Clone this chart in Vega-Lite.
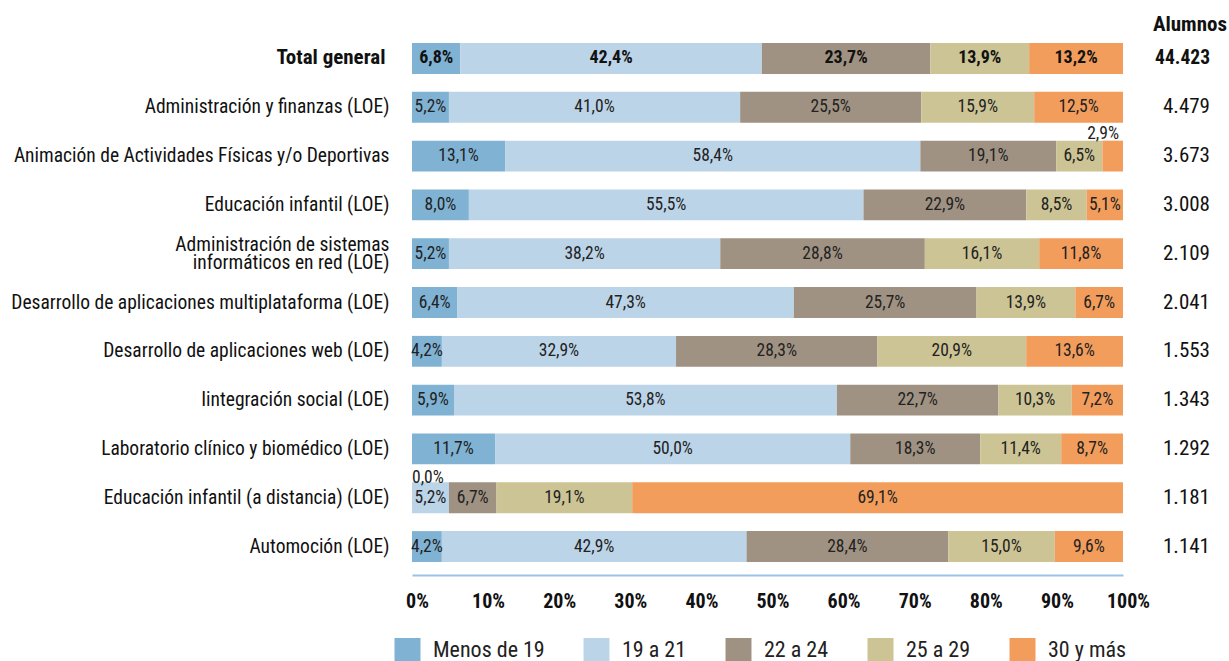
{
  "$schema": "https://vega.github.io/schema/vega-lite/v6.json",
  "autosize": {"type": "none"},
  "width": 711,
  "height": 545,
  "padding": {"left": 412, "top": 30, "right": 106, "bottom": 86},
  "background": "white",
  "config": {
    "font": "Noto Sans Condensed, Roboto Condensed, Liberation Sans Narrow, DejaVu Sans Condensed, sans-serif",
    "view": {"stroke": null}
  },
  "title": {"text": "Alumnos", "anchor": "end", "frame": "group", "dx": 104, "fontSize": 21, "fontWeight": "bold", "color": "#111111", "baseline": "alphabetic", "offset": -22},
  "datasets": {
    "ages": [
      {"cat": "Total general", "age": "Menos de 19", "v": 6.8},
      {"cat": "Total general", "age": "19 a 21", "v": 42.4},
      {"cat": "Total general", "age": "22 a 24", "v": 23.7},
      {"cat": "Total general", "age": "25 a 29", "v": 13.9},
      {"cat": "Total general", "age": "30 y más", "v": 13.2},
      {"cat": "Administración y finanzas (LOE)", "age": "Menos de 19", "v": 5.2},
      {"cat": "Administración y finanzas (LOE)", "age": "19 a 21", "v": 41.0},
      {"cat": "Administración y finanzas (LOE)", "age": "22 a 24", "v": 25.5},
      {"cat": "Administración y finanzas (LOE)", "age": "25 a 29", "v": 15.9},
      {"cat": "Administración y finanzas (LOE)", "age": "30 y más", "v": 12.5},
      {"cat": "Animación de Actividades Físicas y/o Deportivas", "age": "Menos de 19", "v": 13.1},
      {"cat": "Animación de Actividades Físicas y/o Deportivas", "age": "19 a 21", "v": 58.4},
      {"cat": "Animación de Actividades Físicas y/o Deportivas", "age": "22 a 24", "v": 19.1},
      {"cat": "Animación de Actividades Físicas y/o Deportivas", "age": "25 a 29", "v": 6.5},
      {"cat": "Animación de Actividades Físicas y/o Deportivas", "age": "30 y más", "v": 2.9},
      {"cat": "Educación infantil (LOE)", "age": "Menos de 19", "v": 8.0},
      {"cat": "Educación infantil (LOE)", "age": "19 a 21", "v": 55.5},
      {"cat": "Educación infantil (LOE)", "age": "22 a 24", "v": 22.9},
      {"cat": "Educación infantil (LOE)", "age": "25 a 29", "v": 8.5},
      {"cat": "Educación infantil (LOE)", "age": "30 y más", "v": 5.1},
      {"cat": "Administración de sistemas informáticos en red (LOE)", "age": "Menos de 19", "v": 5.2},
      {"cat": "Administración de sistemas informáticos en red (LOE)", "age": "19 a 21", "v": 38.2},
      {"cat": "Administración de sistemas informáticos en red (LOE)", "age": "22 a 24", "v": 28.8},
      {"cat": "Administración de sistemas informáticos en red (LOE)", "age": "25 a 29", "v": 16.1},
      {"cat": "Administración de sistemas informáticos en red (LOE)", "age": "30 y más", "v": 11.8},
      {"cat": "Desarrollo de aplicaciones multiplataforma (LOE)", "age": "Menos de 19", "v": 6.4},
      {"cat": "Desarrollo de aplicaciones multiplataforma (LOE)", "age": "19 a 21", "v": 47.3},
      {"cat": "Desarrollo de aplicaciones multiplataforma (LOE)", "age": "22 a 24", "v": 25.7},
      {"cat": "Desarrollo de aplicaciones multiplataforma (LOE)", "age": "25 a 29", "v": 13.9},
      {"cat": "Desarrollo de aplicaciones multiplataforma (LOE)", "age": "30 y más", "v": 6.7},
      {"cat": "Desarrollo de aplicaciones web (LOE)", "age": "Menos de 19", "v": 4.2},
      {"cat": "Desarrollo de aplicaciones web (LOE)", "age": "19 a 21", "v": 32.9},
      {"cat": "Desarrollo de aplicaciones web (LOE)", "age": "22 a 24", "v": 28.3},
      {"cat": "Desarrollo de aplicaciones web (LOE)", "age": "25 a 29", "v": 20.9},
      {"cat": "Desarrollo de aplicaciones web (LOE)", "age": "30 y más", "v": 13.6},
      {"cat": "Iintegración social (LOE)", "age": "Menos de 19", "v": 5.9},
      {"cat": "Iintegración social (LOE)", "age": "19 a 21", "v": 53.8},
      {"cat": "Iintegración social (LOE)", "age": "22 a 24", "v": 22.7},
      {"cat": "Iintegración social (LOE)", "age": "25 a 29", "v": 10.3},
      {"cat": "Iintegración social (LOE)", "age": "30 y más", "v": 7.2},
      {"cat": "Laboratorio clínico y biomédico (LOE)", "age": "Menos de 19", "v": 11.7},
      {"cat": "Laboratorio clínico y biomédico (LOE)", "age": "19 a 21", "v": 50.0},
      {"cat": "Laboratorio clínico y biomédico (LOE)", "age": "22 a 24", "v": 18.3},
      {"cat": "Laboratorio clínico y biomédico (LOE)", "age": "25 a 29", "v": 11.4},
      {"cat": "Laboratorio clínico y biomédico (LOE)", "age": "30 y más", "v": 8.7},
      {"cat": "Educación infantil (a distancia) (LOE)", "age": "Menos de 19", "v": 0.0},
      {"cat": "Educación infantil (a distancia) (LOE)", "age": "19 a 21", "v": 5.2},
      {"cat": "Educación infantil (a distancia) (LOE)", "age": "22 a 24", "v": 6.7},
      {"cat": "Educación infantil (a distancia) (LOE)", "age": "25 a 29", "v": 19.1},
      {"cat": "Educación infantil (a distancia) (LOE)", "age": "30 y más", "v": 69.1},
      {"cat": "Automoción (LOE)", "age": "Menos de 19", "v": 4.2},
      {"cat": "Automoción (LOE)", "age": "19 a 21", "v": 42.9},
      {"cat": "Automoción (LOE)", "age": "22 a 24", "v": 28.4},
      {"cat": "Automoción (LOE)", "age": "25 a 29", "v": 15.0},
      {"cat": "Automoción (LOE)", "age": "30 y más", "v": 9.6}
    ],
    "totals": [
      {"cat": "Total general", "n": "44.423"},
      {"cat": "Administración y finanzas (LOE)", "n": "4.479"},
      {"cat": "Animación de Actividades Físicas y/o Deportivas", "n": "3.673"},
      {"cat": "Educación infantil (LOE)", "n": "3.008"},
      {"cat": "Administración de sistemas informáticos en red (LOE)", "n": "2.109"},
      {"cat": "Desarrollo de aplicaciones multiplataforma (LOE)", "n": "2.041"},
      {"cat": "Desarrollo de aplicaciones web (LOE)", "n": "1.553"},
      {"cat": "Iintegración social (LOE)", "n": "1.343"},
      {"cat": "Laboratorio clínico y biomédico (LOE)", "n": "1.292"},
      {"cat": "Educación infantil (a distancia) (LOE)", "n": "1.181"},
      {"cat": "Automoción (LOE)", "n": "1.141"}
    ]
  },
  "encoding": {
    "y": {
      "field": "cat",
      "type": "nominal",
      "sort": ["Total general", "Administración y finanzas (LOE)", "Animación de Actividades Físicas y/o Deportivas", "Educación infantil (LOE)", "Administración de sistemas informáticos en red (LOE)", "Desarrollo de aplicaciones multiplataforma (LOE)", "Desarrollo de aplicaciones web (LOE)", "Iintegración social (LOE)", "Laboratorio clínico y biomédico (LOE)", "Educación infantil (a distancia) (LOE)", "Automoción (LOE)"],
      "scale": {"paddingInner": 0.368, "paddingOuter": 0.267},
      "axis": {
        "title": null,
        "ticks": false,
        "domain": false,
        "labelPadding": {"expr": "datum.value == 'Total general' ? 27 : 23"},
        "labelFontSize": {"expr": "datum.value == 'Total general' ? 21 : 19.5"},
        "labelColor": "#111111",
        "labelLimit": 500,
        "labelLineHeight": 18,
        "labelFontWeight": {"expr": "datum.value == 'Total general' ? 'bold' : 'normal'"},
        "labelOffset": {"expr": "datum.value == 'Administración de sistemas informáticos en red (LOE)' ? -9 : 0"},
        "labelExpr": "datum.value == 'Administración de sistemas informáticos en red (LOE)' ? ['Administración de sistemas', 'informáticos en red (LOE)'] : datum.value"
      }
    }
  },
  "layer": [
    {
      "data": {"name": "ages"},
      "transform": [
        {"calculate": "indexof(['Menos de 19', '19 a 21', '22 a 24', '25 a 29', '30 y más'], datum.age)", "as": "o"},
        {"stack": "v", "groupby": ["cat"], "sort": [{"field": "o", "order": "ascending"}], "as": ["x0", "x1"], "offset": "normalize"},
        {"calculate": "(datum.x0 + datum.x1) / 2", "as": "mid"},
        {"calculate": "replace(format(datum.v, '.1f'), '.', ',') + '%'", "as": "lab"}
      ],
      "layer": [
        {
          "mark": {"type": "bar"},
          "encoding": {
            "x": {
              "field": "x0",
              "type": "quantitative",
              "scale": {"domain": [0, 1], "nice": false, "zero": true},
              "axis": {
                "title": null,
                "values": [0, 0.1, 0.2, 0.3, 0.4, 0.5, 0.6, 0.7, 0.8, 0.9, 1],
                "format": ".0%",
                "grid": false,
                "ticks": false,
                "domainColor": "#9cc2e5",
                "domainWidth": 2,
                "labelFontSize": 20,
                "labelFontWeight": "bold",
                "labelColor": "#111111",
                "labelPadding": 16,
                "labelOffset": 5,
                "labelFlush": false
              }
            },
            "x2": {"field": "x1"},
            "color": {
              "field": "age",
              "type": "nominal",
              "scale": {
                "domain": ["Menos de 19", "19 a 21", "22 a 24", "25 a 29", "30 y más"],
                "range": ["#80b2d4", "#bcd4e8", "#a09282", "#ccc494", "#f29d5c"]
              },
              "legend": {
                "title": null,
                "orient": "none",
                "direction": "horizontal",
                "legendX": -16,
                "legendY": 608,
                "padding": 0,
                "symbolType": "M-1.13,-1L1.13,-1L1.13,1L-1.13,1Z",
                "symbolSize": 529,
                "symbolStrokeWidth": 0,
                "symbolOpacity": 1,
                "labelFontSize": 22,
                "labelColor": "#222222",
                "labelOffset": 14,
                "columnPadding": 38
              }
            }
          }
        },
        {
          "transform": [{"filter": "datum.v >= 3 && datum.cat != 'Total general'"}],
          "mark": {"type": "text", "fontSize": 17.5, "color": "#222222", "baseline": "middle", "align": "center"},
          "encoding": {
            "x": {"field": "mid", "type": "quantitative"},
            "text": {"field": "lab"}
          }
        },
        {
          "transform": [{"filter": "datum.cat == 'Total general'"}],
          "mark": {"type": "text", "fontSize": 18, "fontWeight": "bold", "color": "#111111", "baseline": "middle", "align": "center"},
          "encoding": {
            "x": {"field": "mid", "type": "quantitative"},
            "text": {"field": "lab"}
          }
        },
        {
          "transform": [{"filter": "datum.v < 3 && datum.mid > 0.5"}],
          "mark": {"type": "text", "fontSize": 17.5, "color": "#222222", "baseline": "middle", "align": "right", "dy": -22, "dx": -4},
          "encoding": {
            "x": {"field": "x1", "type": "quantitative"},
            "text": {"field": "lab"}
          }
        },
        {
          "transform": [{"filter": "datum.v < 3 && datum.mid <= 0.5"}],
          "mark": {"type": "text", "fontSize": 17.5, "color": "#222222", "baseline": "middle", "align": "left", "dy": -20, "dx": 0},
          "encoding": {
            "x": {"field": "x0", "type": "quantitative"},
            "text": {"field": "lab"}
          }
        }
      ]
    },
    {
      "data": {"name": "totals"},
      "layer": [
        {
          "transform": [{"filter": "datum.cat != 'Total general'"}],
          "mark": {"type": "text", "fontSize": 21, "color": "#111111", "baseline": "middle", "align": "right", "dx": 87},
          "encoding": {
            "x": {"datum": 1, "type": "quantitative"},
            "text": {"field": "n"}
          }
        },
        {
          "transform": [{"filter": "datum.cat == 'Total general'"}],
          "mark": {"type": "text", "fontSize": 19.5, "fontWeight": "bold", "color": "#111111", "baseline": "middle", "align": "right", "dx": 87},
          "encoding": {
            "x": {"datum": 1, "type": "quantitative"},
            "text": {"field": "n"}
          }
        }
      ]
    }
  ]
}
